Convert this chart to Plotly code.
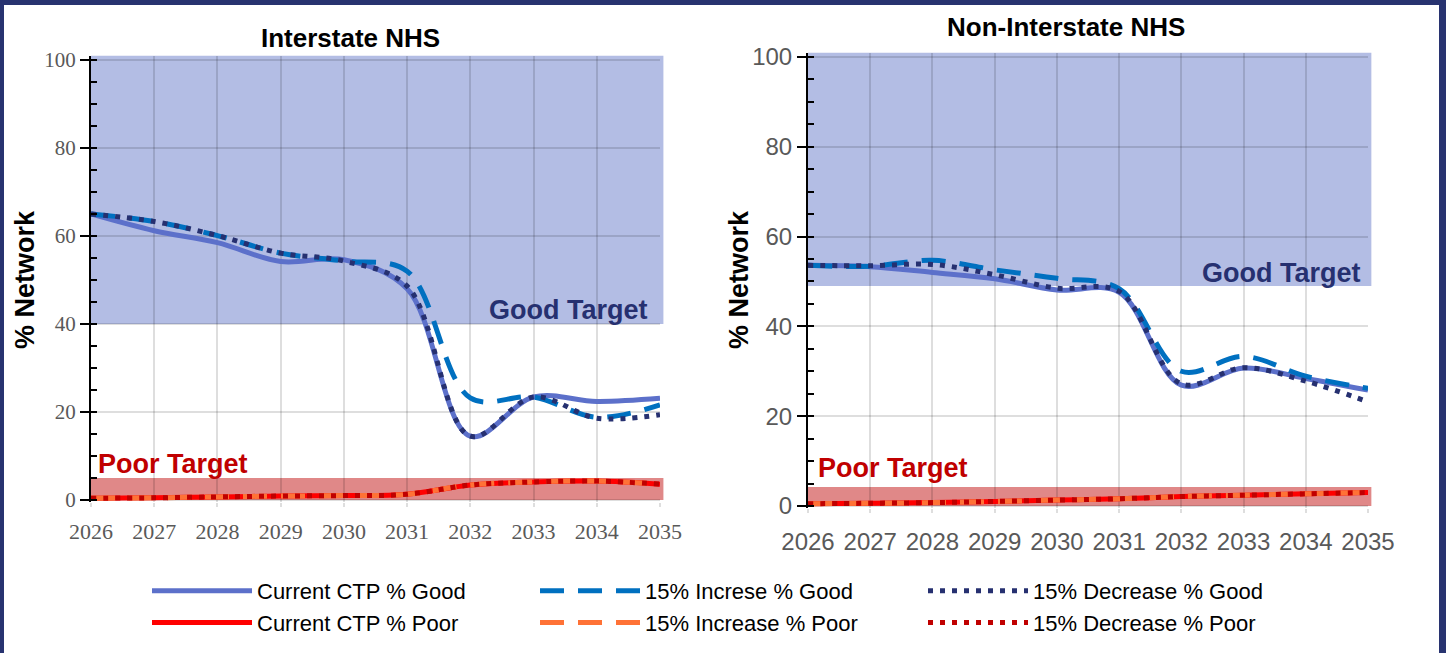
import plotly.graph_objects as go

W, H = 1446, 653

years = [2026, 2027, 2028, 2029, 2030, 2031, 2032, 2033, 2034, 2035]
year_labels = [str(y) for y in years]

# Interstate NHS (% of network)
inter_cur_good = [65.0, 61.2, 58.5, 54.2, 54.6, 48.0, 14.5, 23.4, 22.4, 23.1]
inter_inc_good = [65.0, 63.3, 60.1, 56.1, 54.3, 52.0, 23.2, 23.4, 18.8, 21.6]
inter_dec_good = [65.0, 63.3, 60.1, 56.1, 54.3, 48.6, 14.5, 23.4, 18.6, 19.4]
inter_cur_poor = [0.4, 0.5, 0.7, 0.9, 1.0, 1.3, 3.4, 4.1, 4.3, 3.6]
inter_inc_poor = [0.4, 0.5, 0.7, 0.9, 1.0, 1.3, 3.4, 4.1, 4.3, 3.6]
inter_dec_poor = [0.4, 0.5, 0.7, 0.9, 1.0, 1.3, 3.4, 4.1, 4.3, 3.6]

# Non-Interstate NHS (% of network)
non_cur_good = [53.6, 53.3, 52.0, 50.6, 48.1, 47.6, 26.9, 30.7, 28.4, 25.8]
non_inc_good = [53.6, 53.4, 54.7, 52.6, 50.7, 48.4, 30.0, 33.3, 28.9, 26.2]
non_dec_good = [53.6, 53.5, 53.8, 51.5, 48.5, 47.8, 27.2, 30.8, 27.8, 23.2]
non_cur_poor = [0.5, 0.6, 0.75, 1.0, 1.3, 1.6, 2.1, 2.4, 2.7, 3.0]
non_inc_poor = [0.5, 0.6, 0.75, 1.0, 1.3, 1.6, 2.1, 2.4, 2.7, 3.0]
non_dec_poor = [0.5, 0.6, 0.75, 1.0, 1.3, 1.6, 2.1, 2.4, 2.7, 3.0]

# targets
inter_good_target = 40
inter_poor_target = 5
non_good_target = 49
non_poor_target = 4.2

series_names = ["Current CTP % Good", "15% Increse % Good", "15% Decrease % Good",
                "Current CTP % Poor", "15% Increase % Poor", "15% Decrease % Poor"]

NAVY = "rgb(40,51,112)"
styles = [
    dict(color="rgb(92,112,202)", width=5, dash="solid"),
    dict(color="rgb(0,112,192)", width=5, dash="24px,14px"),
    dict(color="rgb(38,48,112)", width=5, dash="5px,7px"),
    dict(color="rgb(255,0,0)", width=5, dash="solid"),
    dict(color="rgb(255,114,54)", width=5, dash="24px,14px"),
    dict(color="rgb(192,0,0)", width=5, dash="5px,7px"),
]

fig = go.Figure()

panels = [
    ("x", "y", [inter_cur_good, inter_inc_good, inter_dec_good,
                inter_cur_poor, inter_inc_poor, inter_dec_poor], True),
    ("x2", "y2", [non_cur_good, non_inc_good, non_dec_good,
                  non_cur_poor, non_inc_poor, non_dec_poor], False),
]
for xa, ya, data, show in panels:
    for name, vals, st in zip(series_names, data, styles):
        fig.add_trace(go.Scatter(
            x=years, y=vals, name=name, mode="lines",
            line=dict(color=st["color"], width=st["width"], dash=st["dash"],
                      shape="spline", smoothing=1.0),
            xaxis=xa, yaxis=ya, showlegend=show, hoverinfo="skip"))

def px_x(p):
    return p / W

def px_y(p):
    return 1 - p / H

GRID = "rgba(0,0,0,0.13)"
common_x = dict(range=[2026, 2035], tickmode="array", tickvals=years, ticktext=year_labels,
                showgrid=True, gridcolor=GRID, gridwidth=2,
                zeroline=False, showline=False, ticks="outside", ticklen=4,
                tickcolor=GRID, tickwidth=2)
common_y = dict(range=[-0.5, 101], tickmode="array", tickvals=[0, 20, 40, 60, 80, 100],
                showgrid=True, gridcolor=GRID, gridwidth=2,
                zeroline=False, showline=True, linecolor="black", linewidth=2,
                ticks="outside", ticklen=9, tickwidth=2, tickcolor="black",
                minor=dict(ticks="inside", ticklen=6, tickwidth=2, tickcolor="black",
                           dtick=5, showgrid=False))

fig.update_layout(
    xaxis=dict(common_x, domain=[px_x(91), px_x(660)], anchor="y", ticklabelstandoff=5,
               tickfont=dict(family="Liberation Serif", size=22, color="rgb(89,89,89)")),
    yaxis=dict(common_y, domain=[px_y(502.2), px_y(55.6)], anchor="x",
               tickfont=dict(family="Liberation Serif", size=21, color="rgb(89,89,89)")),
    xaxis2=dict(common_x, domain=[px_x(808), px_x(1368)], anchor="y2", ticklabelstandoff=8,
                tickfont=dict(family="Liberation Sans", size=24, color="rgb(89,89,89)")),
    yaxis2=dict(common_y, domain=[px_y(508.2), px_y(52.5)], anchor="x2",
                tickfont=dict(family="Liberation Sans", size=24, color="rgb(89,89,89)")),
)

shapes = []
# target bands
for xa, ya, gt, pt in [("x", "y", inter_good_target, inter_poor_target),
                       ("x2", "y2", non_good_target, non_poor_target)]:
    shapes.append(dict(type="rect", xref=f"{xa} domain", yref=ya, x0=0, x1=1.006,
                       y0=gt, y1=101, fillcolor="rgb(179,189,228)",
                       line=dict(width=0), layer="below"))
    shapes.append(dict(type="rect", xref=f"{xa} domain", yref=ya, x0=0, x1=1.006,
                       y0=0, y1=pt, fillcolor="rgb(224,136,136)",
                       line=dict(width=0), layer="below"))
# navy frame
shapes += [
    dict(type="rect", xref="paper", yref="paper", x0=0, x1=1, y0=px_y(5), y1=1,
         fillcolor=NAVY, line=dict(width=0), layer="above"),
    dict(type="rect", xref="paper", yref="paper", x0=0, x1=px_x(4), y0=0, y1=1,
         fillcolor=NAVY, line=dict(width=0), layer="above"),
    dict(type="rect", xref="paper", yref="paper", x0=px_x(1439), x1=1, y0=0, y1=1,
         fillcolor=NAVY, line=dict(width=0), layer="above"),
]

ann = []
ttl = dict(family="Liberation Sans", size=26, color="black")
ann.append(dict(text="<b>Interstate NHS</b>", xref="paper", yref="paper",
                x=px_x(350), y=px_y(38), showarrow=False, font=ttl,
                xanchor="center", yanchor="middle"))
ann.append(dict(text="<b>Non-Interstate NHS</b>", xref="paper", yref="paper",
                x=px_x(1066), y=px_y(27), showarrow=False, font=ttl,
                xanchor="center", yanchor="middle"))
for cx in [25, 739]:
    ann.append(dict(text="<b>% Network</b>", xref="paper", yref="paper",
                    x=px_x(cx), y=px_y(280), showarrow=False, textangle=-90,
                    font=dict(family="Liberation Sans", size=27, color="black"),
                    xanchor="center", yanchor="middle"))
gfont = dict(family="Liberation Sans", size=27, color="rgb(38,48,112)")
pfont = dict(family="Liberation Sans", size=27, color="rgb(192,0,0)")
ann.append(dict(text="<b>Good Target</b>", xref="x domain", yref="y",
                x=0.982, y=43.2, showarrow=False, font=gfont,
                xanchor="right", yanchor="middle"))
ann.append(dict(text="<b>Good Target</b>", xref="x2 domain", yref="y2",
                x=0.991, y=51.9, showarrow=False, font=gfont,
                xanchor="right", yanchor="middle"))
ann.append(dict(text="<b>Poor Target</b>", xref="x domain", yref="y",
                x=0.008, y=8.2, showarrow=False, font=pfont,
                xanchor="left", yanchor="middle"))
ann.append(dict(text="<b>Poor Target</b>", xref="x2 domain", yref="y2",
                x=0.014, y=8.5, showarrow=False, font=pfont,
                xanchor="left", yanchor="middle"))

fig.update_layout(
    width=W, height=H,
    margin=dict(l=0, r=0, t=0, b=0, autoexpand=False),
    paper_bgcolor="white", plot_bgcolor="white",
    shapes=shapes, annotations=ann,
    legend=dict(orientation="h", x=px_x(147), y=px_y(570), xanchor="left", yanchor="top",
                itemwidth=100, entrywidth=273, entrywidthmode="pixels",
                font=dict(family="Liberation Sans", size=22, color="black"),
                tracegroupgap=0, bgcolor="rgba(0,0,0,0)"),
)

fig.write_html("out.html", config={"displayModeBar": False},
               post_script="document.body.style.margin='0px';")
